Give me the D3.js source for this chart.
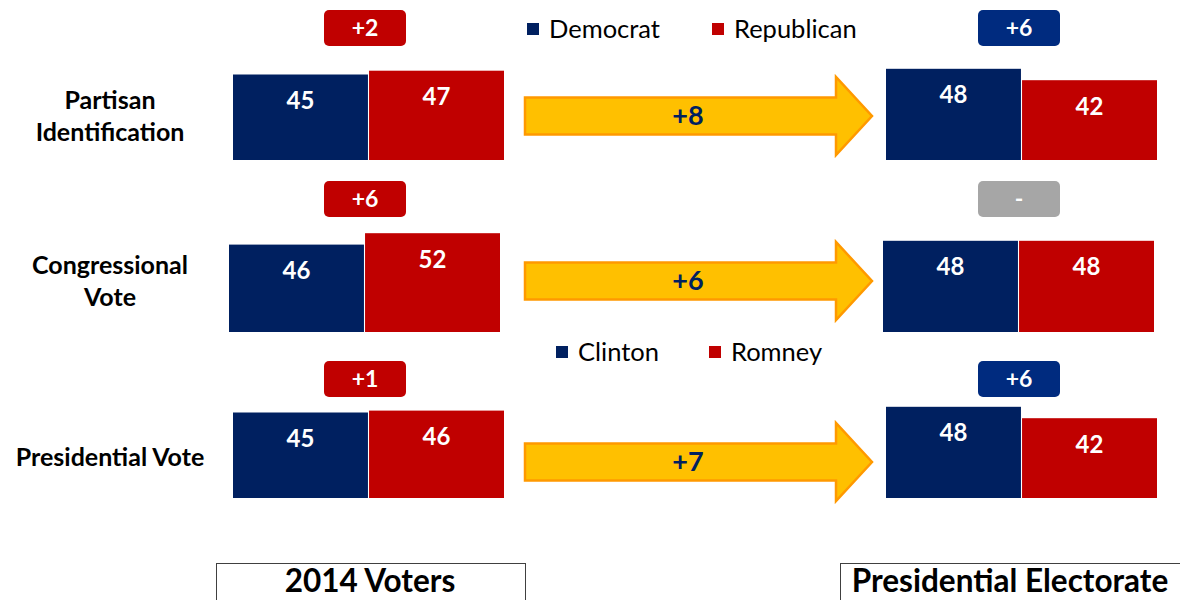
<!DOCTYPE html>
<html>
<head>
<meta charset="utf-8">
<script src="https://cdn.jsdelivr.net/npm/d3@7"></script>
<style>
  body { margin: 0; background: #fff; }
  svg { display: block; font-family: Lato, "Open Sans", sans-serif; }
</style>
</head>
<body>
<div id="chart"></div>
<script>
// data
var rowLabels = [["Partisan", "Identification"], ["Congressional", "Vote"], ["Presidential Vote"]];
var voters2014Dem = [45, 46, 45];
var voters2014Rep = [47, 52, 46];
var electorateDem = [48, 48, 48];
var electorateRep = [42, 48, 42];
var gap2014 = ["+2", "+6", "+1"];
var gapElectorate = ["+6", "-", "+6"];
var shiftLabels = ["+8", "+6", "+7"];
var legendParty = ["Democrat", "Republican"];
var legendPres = ["Clinton", "Romney"];
var groupTitles = ["2014 Voters", "Presidential Electorate"];

var width = 1180, height = 600;
var demColor = "#002060", repColor = "#C00000";
var badgeColor = { dem: "#002B7F", rep: "#C00000", tie: "#A6A6A6" };

var svg = d3.select("#chart").append("svg")
    .attr("width", width)
    .attr("height", height);

// vertical layout per row
var baselines = [160, 332, 498];
var badgeTops = [10, 181, 361];
var arrowMids = [116, 281, 462];
var leftX = [233, 229, 233];
var rightX = [886, 883, 886];
var badgeX = [324, 978];

var h = d3.scaleLinear().domain([0, 52]).range([0, 52 * 1.9]);
var band = d3.scaleBand().domain(["dem", "rep"]).range([0, 271]).paddingInner(0.008);

function drawGroup(g, dem, rep, x0, base, bx, badgeTop, gapText) {
    var vals = [{ k: "dem", v: dem, c: demColor }, { k: "rep", v: rep, c: repColor }];
    var grp = g.append("g").attr("transform", "translate(" + x0 + ",0)");
    grp.selectAll("rect.bar")
        .data(vals)
        .enter().append("rect")
        .attr("class", "bar")
        .attr("x", function (d) { return band(d.k); })
        .attr("y", function (d) { return base - h(d.v); })
        .attr("width", band.bandwidth())
        .attr("height", function (d) { return h(d.v); })
        .attr("fill", function (d) { return d.c; });
    grp.selectAll("text.val")
        .data(vals)
        .enter().append("text")
        .attr("class", "val")
        .attr("x", function (d) { return band(d.k) + band.bandwidth() / 2; })
        .attr("y", function (d) { return base - h(d.v) + 26; })
        .attr("dy", "0.35em")
        .attr("text-anchor", "middle")
        .attr("fill", "#fff")
        .attr("font-weight", "bold")
        .attr("font-size", 24)
        .text(function (d) { return d.v; });

    var lead = dem > rep ? "dem" : (rep > dem ? "rep" : "tie");
    var bw = 82;
    g.append("rect")
        .attr("x", bx)
        .attr("y", badgeTop)
        .attr("width", bw)
        .attr("height", 36)
        .attr("rx", 5)
        .attr("fill", badgeColor[lead]);
    g.append("text")
        .attr("x", bx + bw / 2)
        .attr("y", badgeTop + 18)
        .attr("dy", "0.35em")
        .attr("text-anchor", "middle")
        .attr("fill", "#fff")
        .attr("font-weight", "bold")
        .attr("font-size", 23)
        .text(gapText);
}

function arrowPath(mid) {
    var p = d3.path();
    var x0 = 525, xb = 836, xt = 872;
    p.moveTo(x0, mid - 18.5);
    p.lineTo(xb, mid - 18.5);
    p.lineTo(xb, mid - 39);
    p.lineTo(xt, mid);
    p.lineTo(xb, mid + 39);
    p.lineTo(xb, mid + 18.5);
    p.lineTo(x0, mid + 18.5);
    p.closePath();
    return p.toString();
}

rowLabels.forEach(function (lines, i) {
    var base = baselines[i];
    var g = svg.append("g");

    // row label
    var lab = g.append("text")
        .attr("text-anchor", "middle")
        .attr("font-weight", "bold")
        .attr("font-size", 25)
        .attr("fill", "#000");
    var cy = lines.length === 2 ? arrowMids[i] - 16 : arrowMids[i] - 5;
    lines.forEach(function (t, j) {
        lab.append("tspan")
            .attr("x", 110)
            .attr("y", cy + j * 32)
            .attr("dy", "0.35em")
            .text(t);
    });

    drawGroup(g, voters2014Dem[i], voters2014Rep[i], leftX[i], base, badgeX[0], badgeTops[i], gap2014[i]);
    drawGroup(g, electorateDem[i], electorateRep[i], rightX[i], base, badgeX[1], badgeTops[i], gapElectorate[i]);

    g.append("path")
        .attr("d", arrowPath(arrowMids[i]))
        .attr("fill", "#FFC000")
        .attr("stroke", "#FF9900")
        .attr("stroke-width", 2.5)
        .attr("stroke-linejoin", "miter");
    g.append("text")
        .attr("x", 688)
        .attr("y", arrowMids[i])
        .attr("dy", "0.35em")
        .attr("text-anchor", "middle")
        .attr("fill", "#002060")
        .attr("font-weight", "bold")
        .attr("font-size", 27)
        .text(shiftLabels[i]);
});

// legends
function drawLegend(names, xs, y) {
    var lg = svg.append("g");
    names.forEach(function (n, i) {
        lg.append("rect")
            .attr("x", xs[i])
            .attr("y", y - 6)
            .attr("width", 12)
            .attr("height", 12)
            .attr("fill", i === 0 ? demColor : repColor);
        lg.append("text")
            .attr("x", xs[i] + 22)
            .attr("y", y)
            .attr("dy", "0.35em")
            .attr("font-size", 25.5)
            .attr("fill", "#000")
            .text(n);
    });
}
drawLegend(legendParty, [527, 712], 29);
drawLegend(legendPres, [556, 709], 352);

// group titles at the bottom
var titleBoxes = [{ x: 216, w: 309 }, { x: 840, w: 360 }];
groupTitles.forEach(function (t, i) {
    var b = titleBoxes[i];
    svg.append("rect")
        .attr("x", b.x + 0.5)
        .attr("y", 563.5)
        .attr("width", b.w)
        .attr("height", 60)
        .attr("fill", "#fff")
        .attr("stroke", "#404040")
        .attr("stroke-width", 1);
    svg.append("text")
        .attr("x", i === 0 ? 370 : 1010)
        .attr("y", 581)
        .attr("dy", "0.35em")
        .attr("text-anchor", "middle")
        .attr("font-weight", "bold")
        .attr("font-size", 31.5)
        .attr("fill", "#000")
        .text(t);
});
</script>
</body>
</html>
